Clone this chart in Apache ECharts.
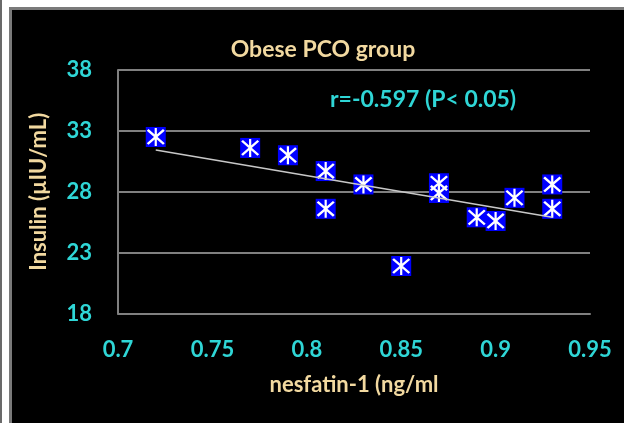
<!DOCTYPE html>
<html>
<head>
<meta charset="utf-8">
<script src="https://cdn.jsdelivr.net/npm/echarts@6/dist/echarts.min.js"></script>
<style>
html,body{margin:0;padding:0;background:#fff;}
#wrap{position:relative;width:624px;height:423px;overflow:hidden;}
#chart{position:absolute;left:0;top:0;width:624px;height:423px;background:#000;}
.f{position:absolute;pointer-events:none;}
</style>
</head>
<body>
<div id="wrap">
<div id="chart"></div>
<div class="f" style="left:0;top:0;width:624px;height:7px;background:#fff;"></div>
<div class="f" style="left:0;top:0;width:9px;height:423px;background:#fff;"></div>
<div class="f" style="left:0;top:0;width:2px;height:423px;background:#6a6a6a;"></div>
<div class="f" style="left:9px;top:7px;width:615px;height:3px;background:#7a7a7a;"></div>
<div class="f" style="left:9px;top:7px;width:3px;height:416px;background:#7a7a7a;"></div>
</div>
<script>
// Data
const nesfatin = [0.72, 0.77, 0.79, 0.81, 0.81, 0.83, 0.85, 0.87, 0.87, 0.89, 0.90, 0.91, 0.93, 0.93];
const insulin  = [32.5, 31.6, 31.0, 29.7, 26.6, 28.6, 21.9, 28.7, 27.9, 25.9, 25.6, 27.5, 28.6, 26.6];
const xTicks = ['0.7', '0.75', '0.8', '0.85', '0.9', '0.95'];
const yTicks = ['18', '23', '28', '33', '38'];
const titleText = 'Obese PCO group';
const corrText = 'r=-0.597 (P< 0.05)';
const xName = 'nesfatin-1 (ng/ml';
const yName = 'Insulin (µIU/mL)';

// Linear least-squares trendline from the points
const n = nesfatin.length;
const mx = nesfatin.reduce((a, b) => a + b, 0) / n;
const my = insulin.reduce((a, b) => a + b, 0) / n;
let sxy = 0, sxx = 0;
for (let i = 0; i < n; i++) { sxy += (nesfatin[i] - mx) * (insulin[i] - my); sxx += (nesfatin[i] - mx) ** 2; }
const slope = sxy / sxx, icpt = my - slope * mx;
const xMin = Math.min(...nesfatin), xMax = Math.max(...nesfatin);
const trend = [[xMin, icpt + slope * xMin], [xMax, icpt + slope * xMax]];

const points = nesfatin.map((x, i) => [x, insulin[i]]);
const star = 'path://M45 3H55V97H45Z M9 17L17 9L91 83L83 91Z M83 9L91 17L17 91L9 83Z';

const CYAN = '#2fd6d6', TAN = '#f2d9a0', FONT = 'Lato';
const chart = echarts.init(document.getElementById('chart'));
chart.setOption({
  backgroundColor: '#000',
  animation: false,
  title: {
    text: titleText, left: 318, top: 33, textAlign: 'center',
    textStyle: { color: TAN, fontFamily: FONT, fontWeight: 'bold', fontSize: 23 }
  },
  graphic: [{
    type: 'text', left: 330, top: 88,
    style: { text: corrText, fill: CYAN, font: 'bold 23px Lato' }
  }],
  grid: { left: 118, right: 34, top: 70, bottom: 109.5, containLabel: false },
  xAxis: {
    type: 'value', min: 0.7, max: 0.95, interval: 0.05,
    name: xName, nameLocation: 'middle', nameGap: 60,
    nameTextStyle: { color: TAN, fontFamily: FONT, fontWeight: 'bold', fontSize: 22 },
    axisLine: { show: true, lineStyle: { color: '#808080', width: 2 } },
    axisTick: { show: false },
    splitLine: { show: false },
    axisLabel: {
      color: CYAN, fontFamily: FONT, fontWeight: 'bold', fontSize: 22, margin: 25,
      formatter: v => xTicks[Math.round((v - 0.7) / 0.05)]
    }
  },
  yAxis: {
    type: 'value', min: 18, max: 38, interval: 5,
    name: yName, nameLocation: 'middle', nameGap: 68, nameRotate: 90,
    nameTextStyle: { color: TAN, fontFamily: FONT, fontWeight: 'bold', fontSize: 22 },
    axisLine: { show: true, lineStyle: { color: '#808080', width: 2 } },
    axisTick: { show: false },
    splitLine: { show: true, lineStyle: { color: '#808080', width: 2 } },
    axisLabel: {
      color: CYAN, fontFamily: FONT, fontWeight: 'bold', fontSize: 22, margin: 26,
      formatter: v => yTicks[Math.round((v - 18) / 5)]
    }
  },
  series: [
    { type: 'scatter', data: points, symbol: 'rect', symbolSize: 20,
      itemStyle: { color: '#0000ff', opacity: 1 }, z: 2 },
    { type: 'scatter', data: points, symbol: star, symbolSize: 18,
      itemStyle: { color: '#ffffff', opacity: 1 }, z: 3 },
    { type: 'line', data: trend, symbol: 'none', z: 4,
      lineStyle: { color: '#c8c8c8', width: 1.5 } }
  ]
});
</script>
</body>
</html>
